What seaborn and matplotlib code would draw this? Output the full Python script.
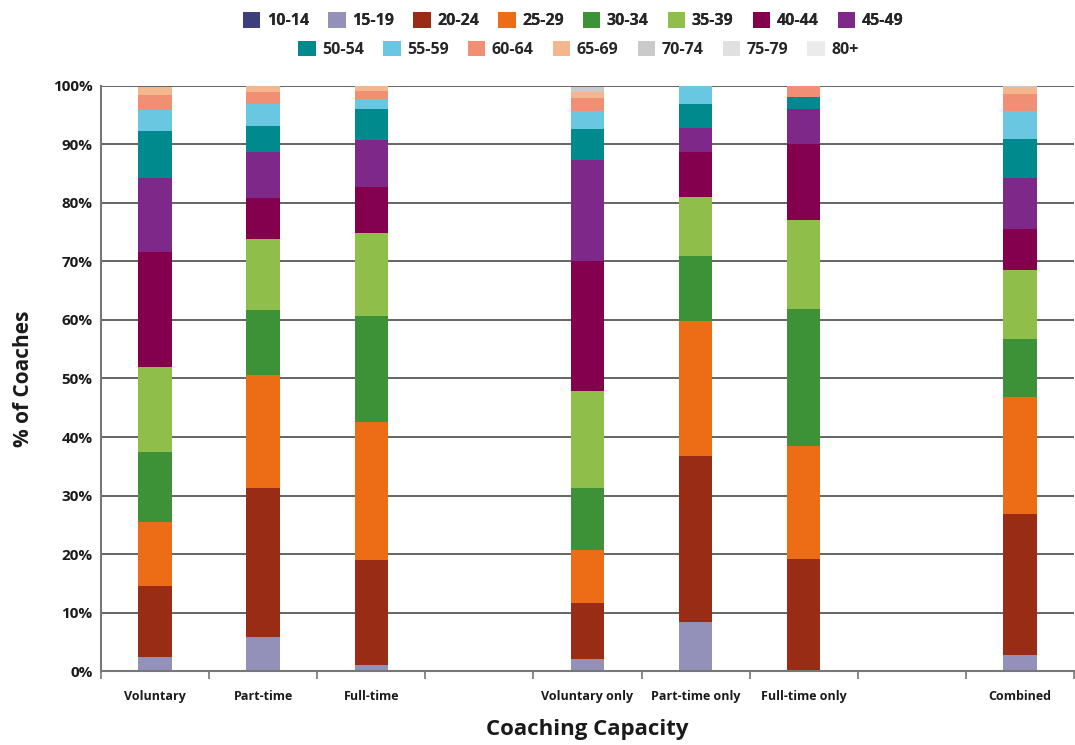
import matplotlib
matplotlib.use("Agg")
import matplotlib.pyplot as plt
import seaborn as sns
import numpy as np
import pandas as pd
from matplotlib.patches import Patch

sns.set_theme(style="white")
plt.rcParams['font.family'] = ['Open Sans', 'DejaVu Sans']

categories = ["Voluntary", "Part-time", "Full-time", "", "Voluntary only",
              "Part-time only", "Full-time only", " ", "Combined"]
age_groups = ["10-14", "15-19", "20-24", "25-29", "30-34", "35-39", "40-44",
              "45-49", "50-54", "55-59", "60-64", "65-69", "70-74", "75-79", "80+"]

# percentage per age group for each category (blank slots are zero)
voluntary      = [0, 2.4, 12.1, 10.9, 12.1, 14.4, 19.7, 12.7, 8.0, 3.6, 2.5, 1.5, 0, 0, 0]
part_time      = [0, 5.9, 25.4, 19.3, 11.1, 12.1, 7.0, 7.9, 4.4, 3.8, 2.0, 1.1, 0, 0, 0]
full_time      = [0, 1.1, 17.9, 23.5, 18.2, 14.1, 7.9, 8.0, 5.3, 1.7, 1.4, 1.0, 0, 0, 0]
blank_a        = [0] * 15
voluntary_only = [0, 2.0, 9.6, 9.1, 10.6, 16.5, 22.3, 17.2, 5.3, 3.1, 2.2, 1.0, 1.0, 0, 0]
part_time_only = [0, 8.4, 28.3, 23.1, 11.1, 10.1, 7.7, 4.2, 4.1, 3.1, 0, 0, 0, 0, 0]
full_time_only = [0, 0, 19.1, 19.3, 23.5, 15.2, 12.9, 6.0, 2.1, 0, 2.0, 0, 0, 0, 0]
blank_b        = [0] * 15
combined       = [0, 2.7, 24.1, 20.0, 10.0, 11.8, 7.0, 8.7, 6.6, 4.9, 2.9, 1.1, 0.2, 0, 0]

colors = ["#3D3F7D", "#9391B9", "#982C14", "#EC6D15", "#3D9136", "#8FBE4A",
          "#84004F", "#7E288A", "#008A8E", "#6AC7E1", "#F08F74", "#F4B78D",
          "#CACACA", "#E0E0E0", "#EBEBEB"]

table = np.array([voluntary, part_time, full_time, blank_a, voluntary_only,
                  part_time_only, full_time_only, blank_b, combined])
df = pd.DataFrame(table, index=categories, columns=age_groups)

fig = plt.figure(figsize=(10.75, 7.45), dpi=100)
ax = fig.add_axes([0.094, 0.0993, 0.905, 0.7853])

bottom = np.zeros(len(categories))
for i, ag in enumerate(age_groups):
    vals = df[ag].values
    sns.barplot(x=categories, y=vals, bottom=bottom, color=colors[i],
                order=categories, width=0.31, errorbar=None, ax=ax,
                linewidth=0, saturation=1)
    bottom = bottom + vals

ax.set_ylim(0, 100)
ax.set_xlim(-0.5, len(categories) - 0.5)
ax.set_yticks(np.arange(0, 101, 10))
ax.set_yticklabels([f"{v}%" for v in range(0, 101, 10)], fontsize=11,
                   fontweight="bold", color="#1a1a1a")
ax.yaxis.grid(True, color="#3a3a3a", linewidth=1.1)
ax.set_axisbelow(True)

# ticks at category boundaries, labels at centers
ax.set_xticks(np.arange(-0.5, len(categories), 1.0))
ax.set_xticklabels([])
ax.set_xticks(np.arange(len(categories)), minor=True)
ax.set_xticklabels(categories, minor=True, fontsize=9, fontweight="bold",
                   color="#1a1a1a")
ax.tick_params(axis="x", which="major", length=6, width=1.2, color="#777777",
               direction="out", bottom=True)
ax.tick_params(axis="x", which="minor", length=0, pad=14)
ax.tick_params(axis="y", length=0, pad=6)

for s in ["top", "right"]:
    ax.spines[s].set_visible(False)
ax.spines["left"].set_color("#777777")
ax.spines["left"].set_linewidth(1.5)
ax.spines["bottom"].set_color("#777777")
ax.spines["bottom"].set_linewidth(1.5)

ax.set_ylabel("% of Coaches", fontsize=15, fontweight="bold", color="#1a1a1a",
              labelpad=14)
ax.set_xlabel("Coaching Capacity", fontsize=16, fontweight="bold",
              color="#1a1a1a", labelpad=11)

handles = [Patch(facecolor=c, edgecolor="none") for c in colors]
leg1 = fig.legend(handles[:8], age_groups[:8], ncol=8, loc="center",
                  bbox_to_anchor=(0.533, 0.972), frameon=False,
                  prop={"weight": "bold", "size": 11.5}, handlelength=1.1,
                  handleheight=1.1, handletextpad=0.4, columnspacing=1.2)
fig.add_artist(leg1)
leg2 = fig.legend(handles[8:], age_groups[8:], ncol=7, loc="center",
                  bbox_to_anchor=(0.538, 0.934), frameon=False,
                  prop={"weight": "bold", "size": 11.5}, handlelength=1.1,
                  handleheight=1.1, handletextpad=0.4, columnspacing=1.2)

fig.savefig("out.png", dpi=100)
